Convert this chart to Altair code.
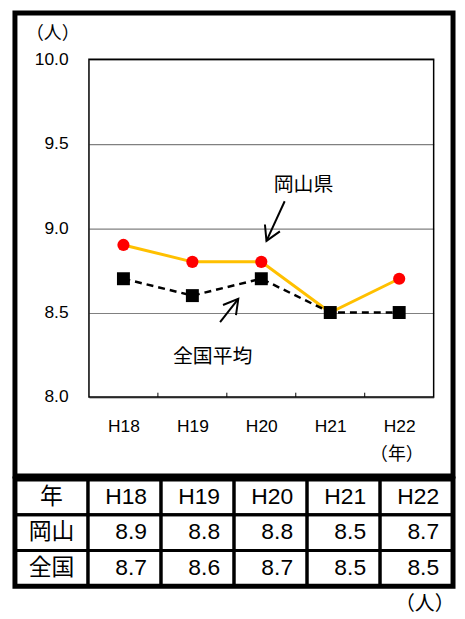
import json
import altair as alt
import pandas as pd

# ---- data ----
years = ["H18", "H19", "H20", "H21", "H22"]
okayama = [8.9, 8.8, 8.8, 8.5, 8.7]
national = [8.7, 8.6, 8.7, 8.5, 8.5]
y_ticks = [8.0, 8.5, 9.0, 9.5, 10.0]
row_labels = ["年", "岡山", "全国"]
series_labels = ["岡山県", "全国平均"]

LATIN = "Liberation Sans"
CJK = "Noto Sans CJK JP"

W = 441
HA = 466
HB = 108

df = pd.DataFrame({
    "year": years,
    "pos": [i + 0.5 for i in range(len(years))],
    "okayama": okayama,
    "national": national,
})

xs = alt.Scale(domain=[0, len(years)], range=[74.5, 421.5], nice=False, zero=False)
ys = alt.Scale(domain=[8, 10], range=[386.5, 46.5], nice=False, zero=False)

x_axis = alt.Axis(
    values=[i + 0.5 for i in range(len(years))],
    labelExpr=f"{json.dumps(years)}[floor(datum.value)]",
    grid=False, ticks=False, domain=False,
    labelFont=LATIN, labelFontSize=17.5, labelColor="black", labelPadding=21,
    offset=-79.5,
    title="（年）", titleFont=CJK, titleFontSize=18, titleFontWeight="normal",
    titleColor="black", titleX=384, titleY=58, titleAlign="center", titleBaseline="middle",
)
y_axis = alt.Axis(
    values=y_ticks, format=".1f",
    grid=True, gridColor="#808080", gridWidth=1.2,
    ticks=False, domain=False,
    labelFont=LATIN, labelFontSize=17.5, labelColor="black", labelPadding=21,
    offset=-74.5,
    title="（人）", titleFont=CJK, titleFontSize=18, titleFontWeight="normal",
    titleColor="black", titleAngle=0, titleX=-37, titleY=21,
    titleAlign="center", titleBaseline="middle",
)


def X(field):
    return alt.X(field, type="quantitative", scale=xs, axis=x_axis)


def Y(field):
    return alt.Y(field, type="quantitative", scale=ys, axis=y_axis)


frame_df = pd.DataFrame({"x0": [0], "x1": [len(years)], "y0": [y_ticks[0]], "y1": [y_ticks[-1]]})
tick_df = pd.DataFrame({"x": list(range(1, len(years))), "y0": [8.0] * 4, "y1": [8.025] * 4})

frame = alt.Chart(frame_df).mark_rect(fillOpacity=0, stroke="black", strokeWidth=1.5).encode(
    x=X("x0"), x2="x1", y=Y("y0"), y2="y1")
inner_ticks = alt.Chart(tick_df).mark_rule(color="black", strokeWidth=1).encode(
    x=X("x"), y=Y("y0"), y2="y1")

ok_line = alt.Chart(df).mark_line(color="#FFC000", strokeWidth=3).encode(x=X("pos"), y=Y("okayama"))
ok_pts = alt.Chart(df).mark_point(shape="circle", filled=True, size=150, color="#FF0000", opacity=1).encode(
    x=X("pos"), y=Y("okayama"))
na_line = alt.Chart(df).mark_line(color="black", strokeWidth=2.5, strokeDash=[7, 5]).encode(
    x=X("pos"), y=Y("national"))
na_pts = alt.Chart(df).mark_point(shape="square", filled=True, size=170, color="black", opacity=1).encode(
    x=X("pos"), y=Y("national"))

# annotations (label + arrow)
ann_df = pd.DataFrame({
    "label": series_labels,
    "tx": [3.112, 1.794], "ty": [9.256, 8.238],
    "x0": [2.839, 1.902], "y0": [9.159, 8.443],
    "x1": [2.575, 2.166], "y1": [8.924, 8.581],
    "ang": [204.6, 38.0],
})
ann_text = alt.Chart(ann_df).mark_text(font=CJK, fontSize=20, color="black").encode(
    x=X("tx"), y=Y("ty"), text="label:N")
shaft = alt.Chart(ann_df).mark_rule(color="black", strokeWidth=2).encode(
    x=X("x0"), y=Y("y0"), x2="x1", y2="y1")
head = alt.Chart(ann_df).mark_point(
    shape="M -0.5 0.866 L 0 0 L 0.5 0.866", filled=False, stroke="black",
    strokeWidth=2, size=1100, opacity=1).encode(
    x=X("x1"), y=Y("y1"), angle=alt.Angle("ang:Q", scale=None))

top = alt.layer(frame, inner_ticks, ok_line, ok_pts, na_line, na_pts, shaft, head, ann_text).properties(
    width=W, height=HA, view=alt.ViewBackground(stroke="black", strokeWidth=5, fill="white"))

# ---- table ----
cols = ["c0"] + [f"c{i+1}" for i in range(len(years))]
rows = ["r0", "r1", "r2"]
cells = []
for ri, r in enumerate(rows):
    for ci, c in enumerate(cols):
        cells.append({"row": r, "col": c})
cell_df = pd.DataFrame(cells)

first_df = pd.DataFrame({"row": rows, "col": ["c0"] * 3, "text": row_labels})
head_df = pd.DataFrame({"row": ["r0"] * len(years), "col": cols[1:], "text": years})
val_df = pd.DataFrame({
    "row": ["r1"] * len(years) + ["r2"] * len(years),
    "col": cols[1:] * 2,
    "text": [f"{v:.1f}" for v in okayama] + [f"{v:.1f}" for v in national],
})

tx = alt.Scale(domain=cols, paddingInner=0, paddingOuter=0)
ty = alt.Scale(domain=rows, paddingInner=0, paddingOuter=0)

grid = alt.Chart(cell_df).mark_rect(fillOpacity=0, stroke="black", strokeWidth=3).encode(
    x=alt.X("col:N", scale=tx, axis=None), y=alt.Y("row:N", scale=ty, axis=None))
first_col = alt.Chart(first_df).mark_text(font=CJK, fontSize=23, color="black", baseline="middle").encode(
    x=alt.X("col:N", scale=tx, axis=None), y=alt.Y("row:N", scale=ty, axis=None), text="text:N")
right_txt = alt.Chart(pd.concat([head_df, val_df])).mark_text(
    font=LATIN, fontSize=23, color="black", align="right", baseline="middle", dx=-14).encode(
    x=alt.X("col:N", scale=tx, axis=None, bandPosition=1),
    y=alt.Y("row:N", scale=ty, axis=None), text="text:N")

table = alt.layer(grid, first_col, right_txt).properties(
    width=W, height=HB,
    view=alt.ViewBackground(stroke="black", strokeWidth=5, fill="white"),
    title=alt.TitleParams("（人）", orient="bottom", anchor="end", font=CJK, fontSize=20,
                          fontWeight="normal", color="black", offset=6),
)

chart = alt.vconcat(top, table, spacing=-5).properties(
    padding={"left": 3, "top": 0, "right": 0, "bottom": 0}
).configure_view(stroke="black", strokeWidth=5).configure(font=LATIN, background="white")

chart.save("out.html", embed_options={"renderer": "svg", "actions": False})
